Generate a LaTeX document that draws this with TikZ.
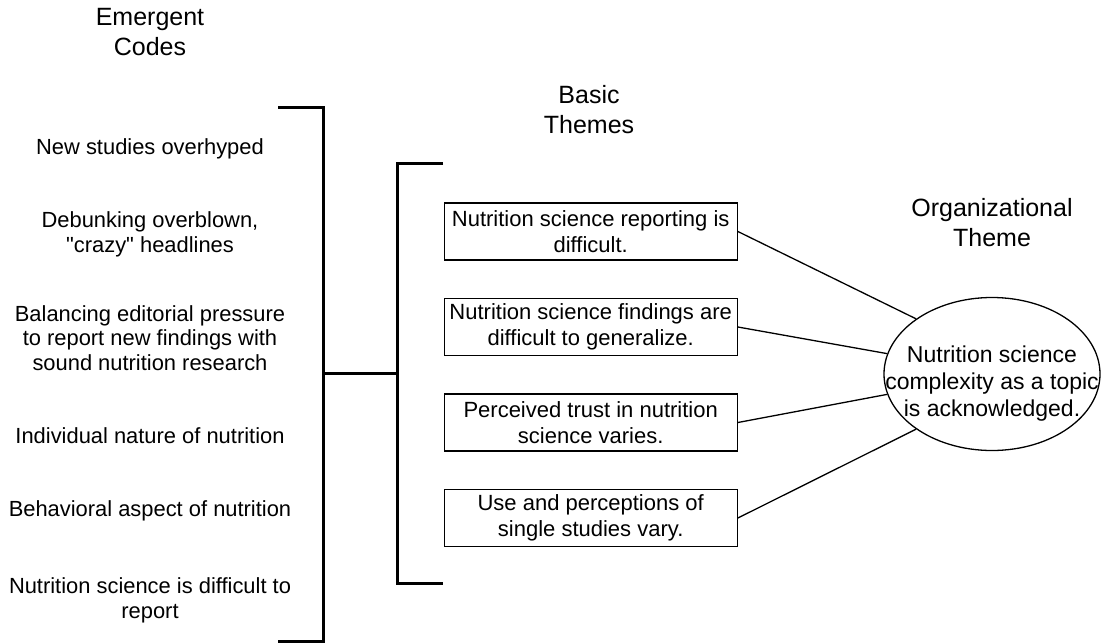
\documentclass[tikz,border=0pt]{standalone}
\usepackage{fontspec}
\setmainfont{Liberation Sans}[Ligatures=TeXOff]
\usetikzlibrary{shapes.geometric}
\begin{document}
\begin{tikzpicture}[x=1pt,y=-1pt,
  header/.style={anchor=north,inner sep=0pt,align=center,font=\fontsize{25}{30}\selectfont},
  code/.style={anchor=north,inner sep=0pt,align=center,font=\fontsize{21.9}{24.8}\selectfont},
  themebox/.style={draw,line width=1.4pt,rectangle,minimum width=293pt,minimum height=57pt,inner sep=0pt,align=center,font=\fontsize{22}{26}\selectfont},
  orgshape/.style={draw,line width=1.3pt,ellipse,minimum width=216pt,minimum height=153pt,inner sep=0pt},
  orgtext/.style={anchor=north,inner sep=0pt,align=center,font=\fontsize{23}{27}\selectfont},
  bracket/.style={line width=3pt},
  link/.style={line width=1.3pt}]
\useasboundingbox (0,0) rectangle (1104,643);

% headers
\node[header] (h1) at (150,8.3) {Emergent\\Codes};
\node[header] (h2) at (589,85) {Basic\\Themes};
\node[header] (h3) at (992,198.3) {Organizational\\Theme};

% emergent codes
\node[code] (c1) at (150,138) {New studies overhyped};
\node[code] (c2) at (150,211.5) {Debunking overblown,\\"crazy" headlines};
\node[code] (c3) at (150,305) {Balancing editorial pressure\\to report new findings with\\sound nutrition research};
\node[code] (c4) at (150,427.5) {Individual nature of nutrition};
\node[code] (c5) at (150,500) {Behavioral aspect of nutrition};
\node[code] (c6) at (150,577.5) {Nutrition science is difficult to\\report};

% brackets
\coordinate (b1a) at (278,107);
\coordinate (b1b) at (323,107);
\coordinate (b1c) at (323,641.5);
\coordinate (b1d) at (278,641.5);
\coordinate (b1m) at (323,373.5);
\coordinate (b2a) at (443,163.3);
\coordinate (b2b) at (397,163.3);
\coordinate (b2c) at (397,583.3);
\coordinate (b2d) at (443,583.3);
\coordinate (b2m) at (397,373.5);
\draw[bracket] (b1a) -- (b1b) -- (b1c) -- (b1d);
\draw[bracket] (b2a) -- (b2b) -- (b2c) -- (b2d);
\draw[bracket] (b1m) -- (b2m);

% basic themes
\node[themebox] (t1) at (590.7,231.5) {Nutrition science reporting is\\difficult.};
\node[themebox] (t2) at (590.7,327) {Nutrition science findings are\\difficult to generalize.};
\node[themebox] (t3) at (590.7,422.5) {Perceived trust in nutrition\\science varies.};
\node[themebox] (t4) at (590.7,518) {Use and perceptions of\\single studies vary.};

% organizational theme
\node[orgshape] (org) at (992,374) {};
\node[orgtext] (orgt) at (992,346) {Nutrition science\\complexity as a topic\\is acknowledged.};

% links
\draw[link] (t1.east) -- (org.144.5);
\draw[link] (t2.east) -- (org.169.2);
\draw[link] (t3.east) -- (org.191.3);
\draw[link] (t4.east) -- (org.216);
\end{tikzpicture}
\end{document}
